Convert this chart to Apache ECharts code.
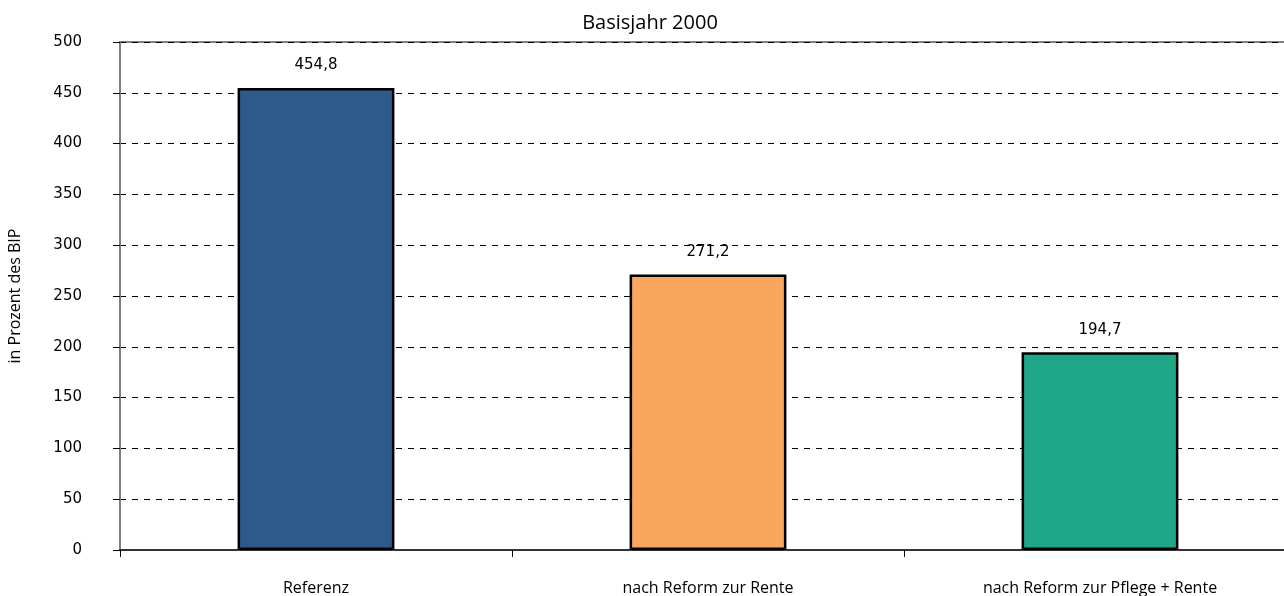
<!DOCTYPE html>
<html><head><meta charset="utf-8">
<script src="https://cdn.jsdelivr.net/npm/echarts@6/dist/echarts.min.js"></script>
<style>html,body{margin:0;padding:0;background:#fff}#c{width:1284px;height:596px}</style>
</head><body><div id="c"></div>
<script>
const categories = ['Referenz', 'nach Reform zur Rente', 'nach Reform zur Pflege + Rente'];
const values = [454.8, 271.2, 194.7];
const colors = ['#2D5A8A', '#F9A75E', '#1FA787'];
const chart = echarts.init(document.getElementById('c'));
chart.setOption({
  animation: false,
  title: { text: 'Basisjahr 2000', left: 645, textAlign: 'center', top: 8,
    textStyle: { fontFamily: 'Open Sans', fontSize: 20, fontWeight: 'normal', color: '#000' } },
  grid: { left: 120, width: 1176, top: 42, bottom: 46, show: true, borderColor: '#808080', borderWidth: 2,
    containLabel: false, outerBoundsMode: 'none' },
  xAxis: { type: 'category', data: categories,
    axisLine: { lineStyle: { color: '#333', width: 2 } },
    axisTick: { show: true, length: 7, lineStyle: { color: '#000' } },
    axisLabel: { margin: 30, fontFamily: 'Open Sans', fontSize: 16, color: '#000' } },
  yAxis: { type: 'value', min: 0, max: 500, interval: 50,
    name: 'in Prozent des BIP', nameLocation: 'middle', nameGap: 97, nameRotate: 90,
    nameTextStyle: { fontFamily: 'Open Sans', fontSize: 16, fontWeight: 'normal', color: '#000' },
    axisLine: { show: true, lineStyle: { color: '#808080', width: 2 } },
    axisTick: { show: true, length: 7, lineStyle: { color: '#000' } },
    axisLabel: { margin: 38, fontFamily: 'DejaVu Sans', fontSize: 15, color: '#000', align: 'right' },
    splitLine: { lineStyle: { color: '#000', type: [6, 6], width: 1 } } },
  series: [{ type: 'bar', barWidth: '40%',
    data: values.map((v, i) => ({ value: v, itemStyle: { color: colors[i] } })),
    itemStyle: { borderColor: '#000', borderWidth: 2.5 },
    label: { show: true, position: 'top', distance: 15, fontFamily: 'DejaVu Sans', fontSize: 15, color: '#000',
      formatter: p => p.value.toFixed(1).replace('.', ',') } }]
});
</script></body></html>
